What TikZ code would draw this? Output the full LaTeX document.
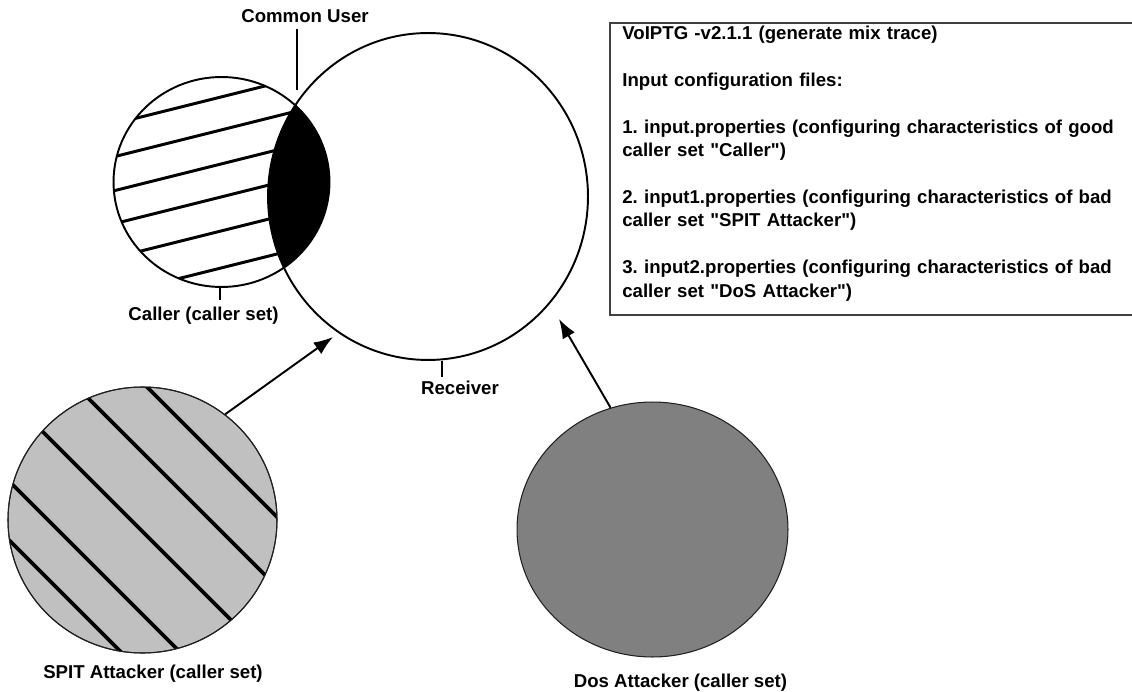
\documentclass[tikz,border=0pt]{standalone}
\usepackage{fontspec}
\setmainfont{Liberation Sans}
\usetikzlibrary{shapes.geometric,arrows.meta}
\definecolor{spitgray}{HTML}{C0C0C0}
\definecolor{dosgray}{HTML}{808080}
\definecolor{edgegray}{HTML}{202020}
\definecolor{boxgray}{HTML}{404040}
\newcommand{\dq}{\textquotedbl}
\begin{document}
\frenchspacing
\begin{tikzpicture}[x=0.02cm,y=-0.02cm,
  lbl/.style={font=\bfseries\fontsize{10.6}{13.3}\selectfont, inner sep=0, anchor=base},
  venn/.style={ellipse, inner sep=0, draw=black, line width=1.1pt},
  attacker/.style={ellipse, inner sep=0, draw=edgegray, line width=0.6pt},
  cstripe/.style={line width=1.7pt},
  sstripe/.style={line width=2.2pt},
  arr/.style={line width=1.1pt, -{Latex[length=11pt,width=8pt]}},
  tickline/.style={line width=0.6pt},
  boxline/.style={line width=0.8pt, draw=boxgray},
  boxtext/.style={font=\bfseries\fontsize{10.6}{13.3}\selectfont\frenchspacing, inner sep=0,
    anchor=base west, text width=11cm, align=left}
]
\useasboundingbox (0,0) rectangle (1132,692);
\fill[white] (0,0) rectangle (1132,692);

% ---- Caller stripes (clipped to caller circle)
\begin{scope}
  \clip (221.5,182) ellipse [x radius=108, y radius=105];
  \foreach \c in {97,130,164,197,231,268}{
    \draw[cstripe] (100,{\c+30.25}) -- (340,{\c-29.75});
  }
  % common part (black lens)
  \fill[black] (428,196.5) ellipse [x radius=160, y radius=163.5];
\end{scope}

% ---- Caller and Receiver sets
\node[venn, minimum width=4.32cm, minimum height=4.2cm] (caller) at (221.5,182) {};
\node[venn, minimum width=6.4cm, minimum height=6.54cm] (receiver) at (428,196.5) {};

% ---- SPIT attacker
\node[attacker, fill=spitgray, minimum width=5.38cm, minimum height=5.32cm] (spit) at (142.5,520) {};
\begin{scope}
  \clip (142.5,520) ellipse [x radius=134.5, y radius=133];
  \foreach \c in {240,310,389,472,531}{
    \draw[sstripe] (-10,{\c-10}) -- (300,{\c+300});
  }
\end{scope}
\draw[edgegray, line width=0.6pt] (142.5,520) ellipse [x radius=134.5, y radius=133];

% ---- DoS attacker
\node[attacker, fill=dosgray, minimum width=5.42cm, minimum height=5.1cm] (dos) at (652.5,529.5) {};

% ---- arrows
\coordinate (spittip) at (333,337);
\coordinate (dostip) at (559,319);
\draw[arr] (spit.52) -- (spittip);
\draw[arr] (dos.109) -- (dostip);

% ---- labels and ticks
\node[lbl] (common) at (305,23) {Common User};
\coordinate (cutop) at (297,29);
\coordinate (cubot) at (297,90);
\draw[tickline] (cutop) -- (cubot);

\node[lbl] (callerlbl) at (203.5,321) {Caller (caller set)};
\coordinate (catop) at (220,287);
\coordinate (cabot) at (220,300);
\draw[tickline] (catop) -- (cabot);

\node[lbl] (receiverlbl) at (460,395) {Receiver};
\coordinate (retop) at (442,361);
\coordinate (rebot) at (442,377);
\draw[tickline] (retop) -- (rebot);

\node[lbl] (spitlbl) at (153,678) {SPIT Attacker (caller set)};
\node[lbl] (doslbl) at (680.5,687) {Dos Attacker (caller set)};

% ---- info box
\node[boxtext] (info) at (622,40) {VoIPTG -v2.1.1 (generate mix trace)\\[13.3pt]
Input configuration files:\\[13.3pt]
1. input.properties (configuring characteristics of good\\
caller set \dq Caller\dq)\\[13.3pt]
2. input1.properties (configuring characteristics of bad\\
caller set \dq SPIT Attacker\dq)\\[13.3pt]
3. input2.properties (configuring characteristics of bad\\
caller set \dq DoS Attacker\dq)};
\coordinate (boxtr) at (1140,23);
\coordinate (boxtl) at (610,23);
\coordinate (boxbl) at (610,315);
\coordinate (boxbr) at (1140,315);
\draw[boxline] (boxtr) -- (boxtl) -- (boxbl) -- (boxbr);
\end{tikzpicture}
\end{document}
